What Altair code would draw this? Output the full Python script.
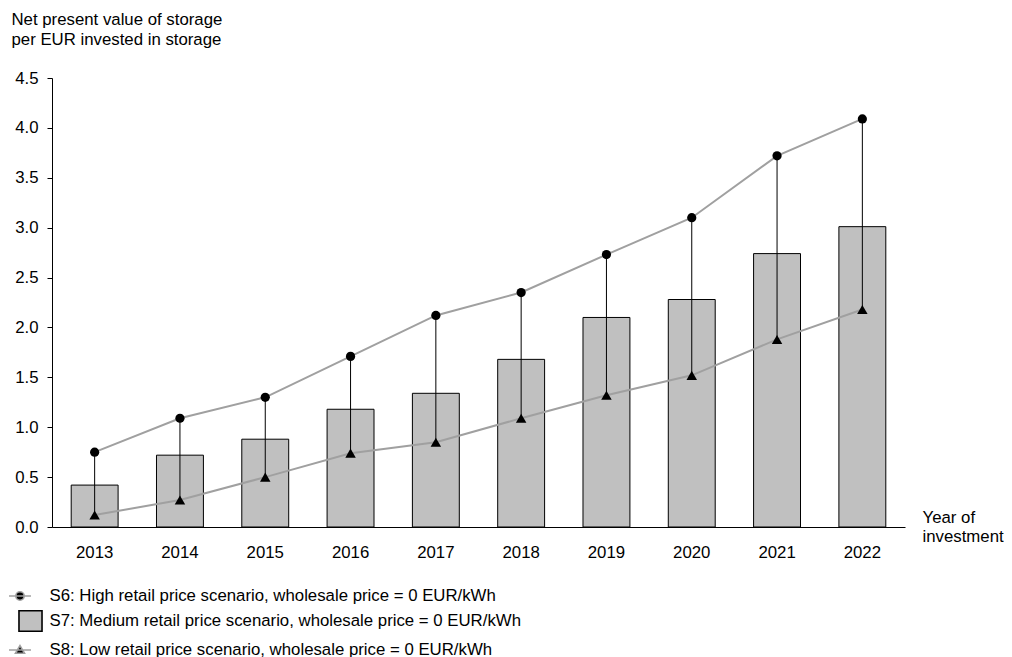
import altair as alt
import pandas as pd

years = ["2013", "2014", "2015", "2016", "2017", "2018", "2019", "2020", "2021", "2022"]
s6_high = [0.75, 1.09, 1.30, 1.71, 2.12, 2.35, 2.73, 3.10, 3.72, 4.09]
s7_medium = [0.42, 0.72, 0.88, 1.18, 1.34, 1.68, 2.10, 2.28, 2.74, 3.01]
s8_low = [0.12, 0.27, 0.50, 0.74, 0.85, 1.09, 1.32, 1.52, 1.88, 2.18]

series_names = [
    "S6: High retail price scenario, wholesale price = 0 EUR/kWh",
    "S7: Medium retail price scenario, wholesale price = 0 EUR/kWh",
    "S8: Low retail price scenario, wholesale price = 0 EUR/kWh",
]

FONT = "Liberation Sans"
FS = 16.8
GRAY_LINE = "#a0a0a0"
BAR_FILL = "#c0c0c0"

df = pd.DataFrame({"year": years, "high": s6_high, "medium": s7_medium, "low": s8_low})
legend_df = pd.DataFrame({"series": series_names, "v": [0, 0, 0]})

xscale = alt.Scale(type="band", domain=years, paddingInner=0.45, paddingOuter=0.225)
yscale = alt.Scale(domain=[0, 4.5], nice=False, zero=True)

xaxis = alt.Axis(
    title=["Year of", "investment"], titleAngle=0, titleAlign="left", titleBaseline="top",
    titleX=870, titleY=-18, titleFont=FONT, titleFontSize=FS, titleFontWeight="normal",
    titleLineHeight=19, titleColor="black",
    labelAngle=0, labelFont=FONT, labelFontSize=FS, labelColor="black", labelPadding=17,
    ticks=False, domainColor="black", domainWidth=1, grid=False,
)
yaxis = alt.Axis(
    title=["Net present value of storage", "per EUR invested in storage"], titleAngle=0,
    titleAlign="left", titleBaseline="top", titleX=-41, titleY=-67, titleFont=FONT,
    titleFontSize=FS, titleFontWeight="normal", titleLineHeight=20, titleColor="black",
    values=[0, 0.5, 1, 1.5, 2, 2.5, 3, 3.5, 4, 4.5], format=".1f",
    labelFont=FONT, labelFontSize=FS, labelColor="black", labelPadding=9,
    tickSize=5, tickColor="black", domainColor="black", domainWidth=1, grid=False,
)

base = alt.Chart(df)

bars = base.mark_bar(fill=BAR_FILL, stroke="black", strokeWidth=1).encode(
    x=alt.X("year:N", scale=xscale, axis=xaxis),
    y=alt.Y("medium:Q", scale=yscale, axis=yaxis),
)

rules = base.mark_rule(color="black", strokeWidth=1).encode(
    x=alt.X("year:N", scale=xscale),
    y=alt.Y("low:Q", scale=yscale),
    y2="high:Q",
)

line_high = base.mark_line(color=GRAY_LINE, strokeWidth=2).encode(
    x=alt.X("year:N", scale=xscale), y=alt.Y("high:Q", scale=yscale)
)
line_low = base.mark_line(color=GRAY_LINE, strokeWidth=2).encode(
    x=alt.X("year:N", scale=xscale), y=alt.Y("low:Q", scale=yscale)
)
pts_high = base.mark_point(shape="circle", filled=True, color="black", size=85, opacity=1).encode(
    x=alt.X("year:N", scale=xscale), y=alt.Y("high:Q", scale=yscale)
)
pts_low = base.mark_point(shape="triangle-up", filled=True, color="black", size=110, opacity=1).encode(
    x=alt.X("year:N", scale=xscale), y=alt.Y("low:Q", scale=yscale)
)

circle_path = "M-1.79,0H0.04M-0.525,0A0.35,0.35,0,1,1,-1.225,0A0.35,0.35,0,1,1,-0.525,0Z"
square_path = "M-0.96,-0.85H0.96V0.85H-0.96Z"
triangle_path = "M-1.79,0H0.04M-0.875,-0.36L-0.5,0.27L-1.25,0.27Z"

legend = alt.Legend(
    title=None, orient="none", legendX=-34.5, legendY=505, direction="vertical",
    labelFont=FONT, labelFontSize=FS, labelColor="black", labelLimit=0, labelOffset=6,
    symbolSize=576, symbolStrokeWidth=1.6, rowPadding=2, padding=0, symbolOpacity=1,
)

legend_layer = alt.Chart(legend_df).transform_filter("false").mark_point(filled=True, opacity=1).encode(
    shape=alt.Shape("series:N", scale=alt.Scale(domain=series_names, range=[circle_path, square_path, triangle_path]), legend=legend),
    fill=alt.Fill("series:N", scale=alt.Scale(domain=series_names, range=["black", BAR_FILL, "black"]), legend=legend),
    stroke=alt.Stroke("series:N", scale=alt.Scale(domain=series_names, range=[GRAY_LINE, "black", GRAY_LINE]), legend=legend),
)

chart = alt.layer(bars, rules, line_high, line_low, pts_high, pts_low, legend_layer).properties(
    width=853, height=449,
    autosize=alt.AutoSizeParams(type="none"),
    padding={"left": 44, "top": 70, "right": 99, "bottom": 135},
    background="white",
).configure_view(stroke="transparent", strokeWidth=0)

chart.save("out.html", embed_options={"renderer": "svg", "actions": False})
